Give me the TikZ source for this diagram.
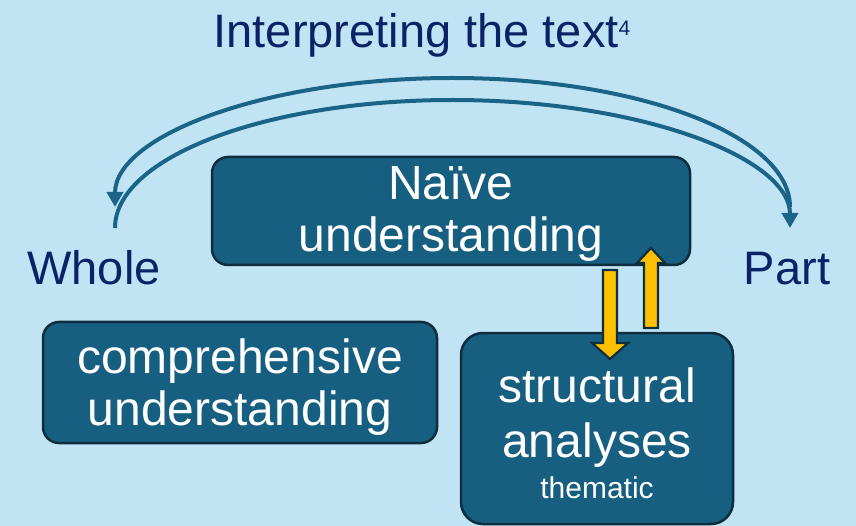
\documentclass[tikz,border=0pt]{standalone}
\usepackage{fontspec}
\setmainfont{Liberation Sans}
\usetikzlibrary{arrows.meta}
\definecolor{bgblue}{HTML}{C1E4F5}
\definecolor{boxblue}{HTML}{175F80}
\definecolor{boxedge}{HTML}{0E2E3F}
\definecolor{arcblue}{HTML}{1B6487}
\definecolor{goldy}{HTML}{FFC000}
\definecolor{navy}{HTML}{0B2266}
\tikzset{
  box/.style={draw=boxedge, line width=2.5pt, fill=boxblue, inner sep=0pt},
  bigtxt/.style={text=white, font=\fontsize{48}{52}\selectfont, anchor=base, inner sep=0pt},
  smalltxt/.style={text=white, font=\fontsize{30}{34}\selectfont, anchor=base, inner sep=0pt},
  sidetxt/.style={text=navy, font=\fontsize{47}{50}\selectfont, anchor=base, inner sep=0pt},
  cycle arc/.style={draw=arcblue, line width=4pt, -{Triangle[length=15pt,width=16pt]}},
  yarrow/.style={fill=goldy, draw=boxedge, line width=2.2pt, line join=miter},
}
\begin{document}
\begin{tikzpicture}[x=1pt,y=-1pt]
\fill[bgblue] (0,0) rectangle (856,526);
\useasboundingbox (0,0) rectangle (856,526);

% title
\node[sidetxt] (title) at (422,48) {Interpreting the text\raisebox{12pt}{\fontsize{21}{21}\selectfont 4}};

% side labels
\node[sidetxt] (whole) at (94,285) {Whole};
\node[sidetxt] (part) at (787,285) {Part};

% boxes
\draw[box, rounded corners=16pt] (212,157) rectangle (690,265);
\node (naive) at (451,211) {};
\draw[box, rounded corners=16pt] (43,322) rectangle (437,443);
\node (compr) at (240,382) {};
\draw[box, rounded corners=22pt] (461,333) rectangle (733,524);
\node (struct) at (597,428) {};

% box texts
\node[bigtxt] (n1) at (451,200) {Naïve};
\node[bigtxt] (n2) at (451,252) {understanding};
\node[bigtxt] (c1) at (240,373) {comprehensive};
\node[bigtxt] (c2) at (240,425) {understanding};
\node[bigtxt] (s1) at (597,402) {structural};
\node[bigtxt] (s2) at (597,457) {analyses};
\node[smalltxt] (s3) at (597,498) {thematic};

% hermeneutic arcs
\coordinate (outS) at (790,207);
\coordinate (inS) at (115,228);
\draw[cycle arc] (outS) arc[start angle=0, end angle=-180, x radius=337.5, y radius=129];
\draw[cycle arc] (inS) arc[start angle=-180, end angle=0, x radius=337.5, y radius=128];

% yellow arrows
\draw[yarrow] (603,270) -- (617,270) -- (617,343) -- (628,343) -- (610,359)
  -- (592,343) -- (603,343) -- cycle;
\draw[yarrow] (644,328) -- (658,328) -- (658,263) -- (665,263) -- (651,248)
  -- (637,263) -- (644,263) -- cycle;
\end{tikzpicture}
\end{document}
